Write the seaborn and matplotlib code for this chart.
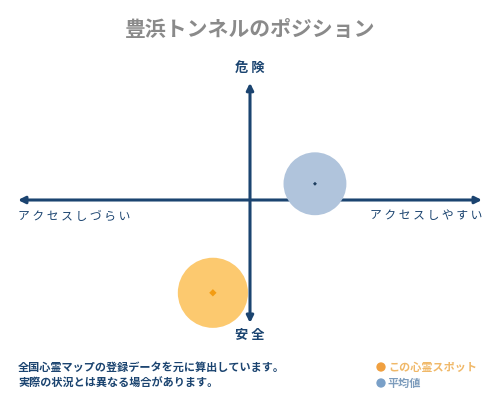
import matplotlib
matplotlib.use("Agg")
import matplotlib.pyplot as plt
import seaborn as sns
import pandas as pd

# ---- data ----
series = ["この心霊スポット", "平均値"]
pos_x = [-1.6, 2.8]          # access: negative = hard, positive = easy
pos_y = [-4.0, 0.7]          # danger: positive = dangerous
circle_colors = ["#fcc96f", "#b0c4dc"]
dot_colors = ["#f39c12", "#1c3d5e"]
legend_colors = ["#f0a040", "#7aa0c8"]
legend_text_colors = ["#f0b868", "#7d9cbc"]

title = "豊浜トンネルのポジション"
label_top = "危 険"
label_bottom = "安 全"
label_left = "アクセスしづらい"
label_right = "アクセスしやすい"
notes = ["全国心霊マップの登録データを元に算出しています。",
         "実際の状況とは異なる場合があります。"]

df = pd.DataFrame({"series": series, "x": pos_x, "y": pos_y})

sns.set_theme(style="white")
plt.rcParams["font.family"] = ["Noto Sans CJK JP", "DejaVu Sans"]


def spaced(s):
    return " ".join(s)


fig = plt.figure(figsize=(5, 4), dpi=100)
ax = fig.add_axes([0, 0, 1, 1])
S = 23.2  # px per unit
ax.set_xlim(-250 / S, 250 / S)
ax.set_ylim(-200 / S, 200 / S)
ax.axis("off")

navy = "#1b4470"
# axes arrows
ax.annotate("", xy=(10.0, 0), xytext=(-10.0, 0),
            arrowprops=dict(arrowstyle="<|-|>", color=navy, lw=2.2,
                            mutation_scale=10, shrinkA=0, shrinkB=0))
ax.annotate("", xy=(0, 5.05), xytext=(0, -5.3),
            arrowprops=dict(arrowstyle="<|-|>", color=navy, lw=2.2,
                            mutation_scale=10, shrinkA=0, shrinkB=0))

# circles
sns.scatterplot(data=df, x="x", y="y", hue="series", palette=circle_colors,
                size="series", sizes={series[0]: 2550, series[1]: 2050},
                edgecolor="none", legend=False, ax=ax, zorder=3)
sns.scatterplot(data=df, x="x", y="y", hue="series", palette=dot_colors,
                size="series", sizes={series[0]: 14, series[1]: 4},
                marker="D", edgecolor="none", legend=False, ax=ax, zorder=4)

# labels
ax.text(0, 200 / S - 30 / S, title, ha="center", va="center",
        fontsize=15, color="#8a8a8a", fontweight="bold")
ax.text(0, 200 / S - 68 / S, label_top, ha="center", va="center",
        fontsize=9.5, color=navy, fontweight="bold")
ax.text(0, 200 / S - 335 / S, label_bottom, ha="center", va="center",
        fontsize=9.5, color=navy, fontweight="bold")
ax.text(-232 / S, -16 / S, spaced(label_left), ha="left", va="center",
        fontsize=8.5, color=navy)
ax.text(232 / S, -16 / S, spaced(label_right), ha="right", va="center",
        fontsize=8.5, color=navy)

for i, line in enumerate(notes):
    ax.text(-232 / S, (200 - 367 - 16 * i) / S, line, ha="left", va="center",
            fontsize=8, color=navy, fontweight="bold")

for i, (lab, c, tc) in enumerate(zip(series, legend_colors, legend_text_colors)):
    yy = (200 - 367 - 16 * i) / S
    ax.scatter([(381 - 250) / S], [yy], s=45, color=c, edgecolor="none")
    ax.text((388 - 250) / S, yy, lab, ha="left", va="center",
            fontsize=8, color=tc, fontweight="bold")

fig.savefig("out.png", dpi=100, facecolor="white")
